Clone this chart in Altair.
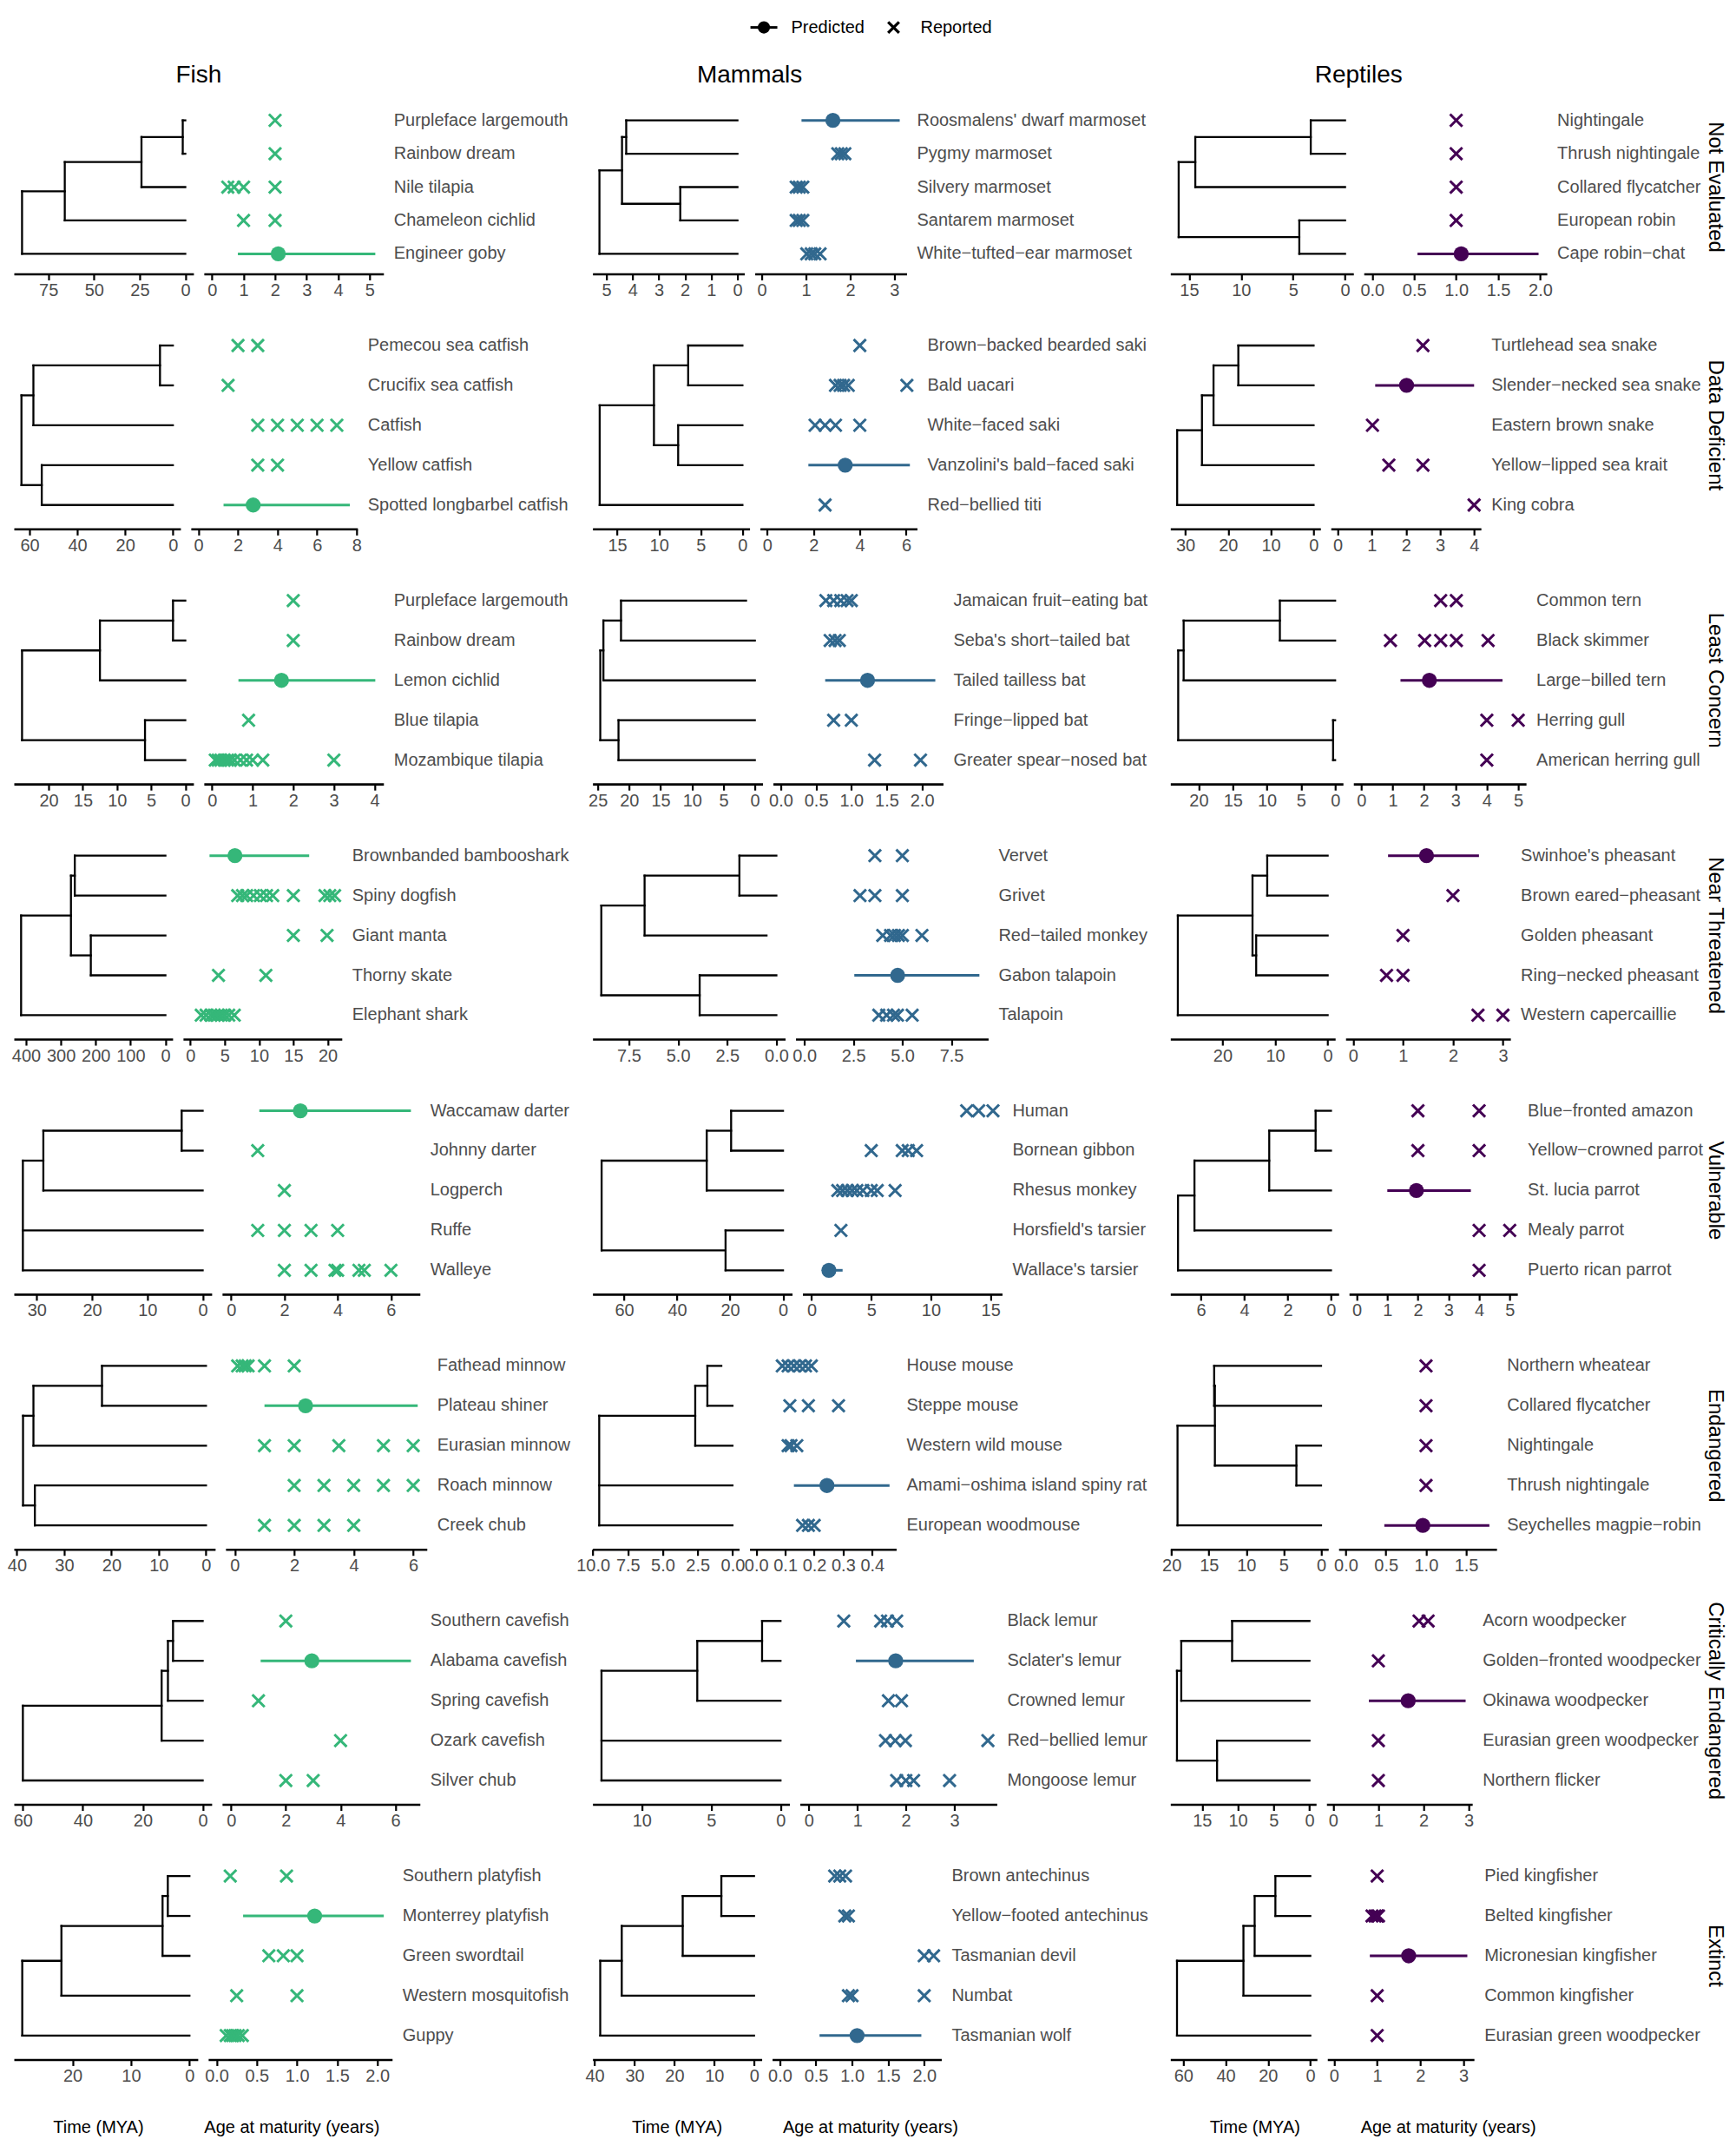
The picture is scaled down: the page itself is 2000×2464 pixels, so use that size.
import altair as alt
import pandas as pd

# ---------------- data ----------------
groups = ["Fish", "Mammals", "Reptiles"]
group_colors = ["#35B779", "#31688E", "#440154"]
statuses = ["Not Evaluated", "Data Deficient", "Least Concern", "Near Threatened",
            "Vulnerable", "Endangered", "Critically Endangered", "Extinct"]
legend_labels = ["Predicted", "Reported"]
x_titles = ["Time (MYA)", "Age at maturity (years)"]

# species (top to bottom) per status row
fish_species = [
    ["Purpleface largemouth", "Rainbow dream", "Nile tilapia", "Chameleon cichlid", "Engineer goby"],
    ["Pemecou sea catfish", "Crucifix sea catfish", "Catfish", "Yellow catfish", "Spotted longbarbel catfish"],
    ["Purpleface largemouth", "Rainbow dream", "Lemon cichlid", "Blue tilapia", "Mozambique tilapia"],
    ["Brownbanded bambooshark", "Spiny dogfish", "Giant manta", "Thorny skate", "Elephant shark"],
    ["Waccamaw darter", "Johnny darter", "Logperch", "Ruffe", "Walleye"],
    ["Fathead minnow", "Plateau shiner", "Eurasian minnow", "Roach minnow", "Creek chub"],
    ["Southern cavefish", "Alabama cavefish", "Spring cavefish", "Ozark cavefish", "Silver chub"],
    ["Southern platyfish", "Monterrey platyfish", "Green swordtail", "Western mosquitofish", "Guppy"],
]
mammal_species = [
    ["Roosmalens' dwarf marmoset", "Pygmy marmoset", "Silvery marmoset", "Santarem marmoset", "White\u2212tufted\u2212ear marmoset"],
    ["Brown\u2212backed bearded saki", "Bald uacari", "White\u2212faced saki", "Vanzolini's bald\u2212faced saki", "Red\u2212bellied titi"],
    ["Jamaican fruit\u2212eating bat", "Seba's short\u2212tailed bat", "Tailed tailless bat", "Fringe\u2212lipped bat", "Greater spear\u2212nosed bat"],
    ["Vervet", "Grivet", "Red\u2212tailed monkey", "Gabon talapoin", "Talapoin"],
    ["Human", "Bornean gibbon", "Rhesus monkey", "Horsfield's tarsier", "Wallace's tarsier"],
    ["House mouse", "Steppe mouse", "Western wild mouse", "Amami\u2212oshima island spiny rat", "European woodmouse"],
    ["Black lemur", "Sclater's lemur", "Crowned lemur", "Red\u2212bellied lemur", "Mongoose lemur"],
    ["Brown antechinus", "Yellow\u2212footed antechinus", "Tasmanian devil", "Numbat", "Tasmanian wolf"],
]
reptile_species = [
    ["Nightingale", "Thrush nightingale", "Collared flycatcher", "European robin", "Cape robin\u2212chat"],
    ["Turtlehead sea snake", "Slender\u2212necked sea snake", "Eastern brown snake", "Yellow\u2212lipped sea krait", "King cobra"],
    ["Common tern", "Black skimmer", "Large\u2212billed tern", "Herring gull", "American herring gull"],
    ["Swinhoe's pheasant", "Brown eared\u2212pheasant", "Golden pheasant", "Ring\u2212necked pheasant", "Western capercaillie"],
    ["Blue\u2212fronted amazon", "Yellow\u2212crowned parrot", "St. lucia parrot", "Mealy parrot", "Puerto rican parrot"],
    ["Northern wheatear", "Collared flycatcher", "Nightingale", "Thrush nightingale", "Seychelles magpie\u2212robin"],
    ["Acorn woodpecker", "Golden\u2212fronted woodpecker", "Okinawa woodpecker", "Eurasian green woodpecker", "Northern flicker"],
    ["Pied kingfisher", "Belted kingfisher", "Micronesian kingfisher", "Common kingfisher", "Eurasian green woodpecker"],
]

# trees: internal node = (age MYA, [children]); leaf = species index, or (index, tip age)
fish_trees = [
    (89.4, [(66.0, [(24.0, [(1.4, [0, 1]), 2]), 3]), 4]),
    (63.4, [(58.4, [(5.4, [0, 1]), 2]), (54.9, [3, 4])]),
    (23.9, [(12.5, [(1.8, [0, 1]), 2]), (5.9, [3, 4])]),
    (414.0, [(271.0, [(260.0, [0, 1]), (214.0, [2, 3])]), 4]),
    (32.5, [(28.8, [(3.8, [0, 1]), 2]), 3, 4]),
    (38.7, [(36.5, [(22.0, [0, 1]), 2]), (36.2, [3, 4])]),
    (60.0, [(13.7, [(11.6, [(9.9, [0, 1]), 2]), 3]), 4]),
    (28.6, [(21.9, [(4.6, [(3.7, [0, 1]), 2]), 3]), 4]),
]
mammal_trees = [
    (5.26, [(4.4, [(4.24, [0, 1]), (2.18, [2, 3])]), 4]),
    (17.1, [(10.6, [(6.5, [0, 1]), (7.7, [2, 3])]), 4]),
    (24.6, [(24.1, [(21.3, [(0, 1.4), 1]), 2]), (21.7, [3, 4])]),
    (8.9, [(6.7, [(1.88, [0, 1]), (2, 0.5)]), (3.9, [3, 4])]),
    (68.5, [(28.8, [(19.6, [0, 1]), 2]), (21.7, [3, 4])]),
    (9.55, [(2.67, [(1.8, [(0, 0.8), 1]), 2]), 3, 4]),
    (12.9, [(6.0, [(1.33, [0, 1]), 2]), 3, 4]),
    (38.6, [(33.2, [(17.9, [(8.2, [0, 1]), 2]), 3]), 4]),
]
reptile_trees = [
    (16.0, [(14.4, [(3.3, [0, 1]), 2]), (4.4, [3, 4])]),
    (31.9, [(26.1, [(23.4, [(17.6, [0, 1]), 2]), 3]), 4]),
    (23.0, [(22.2, [(8.1, [0, 1]), 2]), (0.3, [3, 4])]),
    (28.5, [(14.3, [(11.5, [0, 1]), (13.6, [2, 3])]), 4]),
    (7.06, [(6.3, [(2.85, [(0.71, [0, 1]), 2]), 3]), 4]),
    (19.2, [(14.2, [(14.3, [0, 1]), (3.3, [2, 3])]), 4]),
    (18.5, [(17.9, [(10.8, [0, 1]), 2]), (12.9, [3, 4])]),
    (63.0, [(31.6, [(26.3, [(16.5, [0, 1]), 2]), 3]), 4]),
]

# reported ages at maturity (years), per species
fish_reported = [
    [[2.0], [2.0], [0.5, 0.7, 1.0, 2.0], [1.0, 2.0], []],
    [[2.0, 3.0], [1.5], [3.0, 4.0, 5.0, 6.0, 7.0], [3.0, 4.0], []],
    [[2.0], [2.0], [], [0.9], [0.08, 0.15, 0.22, 0.3, 0.38, 0.45, 0.55, 0.7, 0.85, 1.0, 1.25, 3.0]],
    [[], [6.9, 7.6, 8.2, 9.2, 10.2, 11.1, 12.0, 15.0, 19.6, 20.3, 21.0], [15.0, 19.9], [4.1, 11.0],
     [1.6, 2.3, 3.0, 3.5, 4.0, 4.5, 5.0, 5.6, 6.4]],
    [[], [1.0], [2.0], [1.0, 2.0, 3.0, 4.0], [2.0, 3.0, 3.9, 4.0, 4.8, 5.0, 6.0]],
    [[0.1, 0.25, 0.35, 0.45, 1.0, 2.0], [], [1.0, 2.0, 3.5, 5.0, 6.0], [2.0, 3.0, 4.0, 5.0, 6.0], [1.0, 2.0, 3.0, 4.0]],
    [[2.0], [], [1.0], [4.0], [2.0, 3.0]],
    [[0.17, 0.87], [], [0.65, 0.83, 1.0], [0.25, 1.0], [0.12, 0.17, 0.2, 0.23, 0.27, 0.32]],
]
mammal_reported = [
    [[], [1.72, 1.8, 1.88], [0.78, 0.85, 0.93], [0.78, 0.85, 0.93], [1.02, 1.12, 1.2, 1.32]],
    [[4.0], [2.95, 3.15, 3.3, 3.5, 6.03], [2.07, 2.5, 2.95, 4.0], [], [2.5]],
    [[0.64, 0.75, 0.85, 0.94, 1.0], [0.7, 0.77, 0.83], [], [0.75, 1.0], [1.33, 1.98]],
    [[3.6, 5.0], [2.84, 3.6, 5.0], [4.0, 4.4, 4.6, 4.8, 5.0, 6.0], [], [3.8, 4.2, 4.55, 4.75, 5.5]],
    [[13.0, 14.0, 15.2], [5.0, 7.6, 8.1, 8.8], [2.2, 2.6, 3.0, 3.4, 3.8, 4.3, 5.0, 5.5, 7.0], [2.46], []],
    [[0.09, 0.11, 0.13, 0.15, 0.17, 0.19], [0.116, 0.18, 0.284], [0.11, 0.12, 0.14], [], [0.16, 0.18, 0.2]],
    [[0.72, 1.48, 1.62, 1.81], [], [1.64, 1.91], [1.58, 1.78, 1.99, 3.69], [1.81, 2.0, 2.16, 2.9]],
    [[0.76, 0.83, 0.91], [0.9, 0.95], [2.0, 2.13], [0.95, 1.0, 2.0], []],
]
reptile_reported = [
    [[1.0], [1.0], [1.0], [1.0], []],
    [[2.5], [], [1.02], [1.5, 2.5], [4.0]],
    [[2.53, 3.03], [0.93, 2.02, 2.53, 3.03, 4.04], [], [4.0, 5.0], [4.0]],
    [[], [2.0], [1.0], [0.67, 1.0], [2.5, 3.0]],
    [[2.0, 4.0], [2.0, 4.0], [], [4.0, 5.0], [4.0]],
    [[1.0], [1.0], [1.0], [1.0], []],
    [[1.9, 2.1], [1.0], [], [1.0], [1.0]],
    [[1.0], [0.88, 0.95, 1.0, 1.03], [], [1.0], [1.0]],
]

# predicted: (species index, estimate, lower, upper)
fish_predicted = [(4, 2.1, 0.82, 5.18), (4, 2.77, 1.27, 7.66), (2, 1.71, 0.65, 4.02), (0, 6.5, 2.8, 17.3),
                  (0, 2.6, 1.06, 6.75), (1, 2.38, 1.0, 6.15), (1, 2.95, 1.08, 6.57), (1, 1.22, 0.33, 2.08)]
mammal_predicted = [(0, 1.61, 0.9, 3.12), (3, 3.37, 1.78, 6.16), (2, 1.23, 0.63, 2.19), (3, 4.76, 2.55, 8.93),
                    (4, 1.45, 0.9, 2.6), (3, 0.244, 0.13, 0.46), (1, 1.79, 0.97, 3.4), (4, 1.07, 0.55, 1.96)]
reptile_predicted = [(4, 1.06, 0.54, 1.98), (1, 2.02, 1.1, 4.0), (2, 2.17, 1.25, 4.5), (0, 1.47, 0.7, 2.52),
                     (2, 1.95, 1.0, 3.73), (4, 0.96, 0.48, 1.79), (2, 1.66, 0.79, 2.93), (2, 1.73, 0.83, 3.09)]

# axis tick values
fish_tree_ticks = [[0, 25, 50, 75], [0, 20, 40, 60], [0, 5, 10, 15, 20], [0, 100, 200, 300, 400],
                   [0, 10, 20, 30], [0, 10, 20, 30, 40], [0, 20, 40, 60], [0, 10, 20]]
fish_dot_ticks = [[0, 1, 2, 3, 4, 5], [0, 2, 4, 6, 8], [0, 1, 2, 3, 4], [0, 5, 10, 15, 20],
                  [0, 2, 4, 6], [0, 2, 4, 6], [0, 2, 4, 6], [0, 0.5, 1, 1.5, 2]]
mammal_tree_ticks = [[0, 1, 2, 3, 4, 5], [0, 5, 10, 15], [0, 5, 10, 15, 20, 25], [0, 2.5, 5, 7.5],
                     [0, 20, 40, 60], [0, 2.5, 5, 7.5, 10], [0, 5, 10], [0, 10, 20, 30, 40]]
mammal_dot_ticks = [[0, 1, 2, 3], [0, 2, 4, 6], [0, 0.5, 1, 1.5, 2], [0, 2.5, 5, 7.5],
                    [0, 5, 10, 15], [0, 0.1, 0.2, 0.3, 0.4], [0, 1, 2, 3], [0, 0.5, 1, 1.5, 2]]
reptile_tree_ticks = [[0, 5, 10, 15], [0, 10, 20, 30], [0, 5, 10, 15, 20], [0, 10, 20],
                      [0, 2, 4, 6], [0, 5, 10, 15, 20], [0, 5, 10, 15], [0, 20, 40, 60]]
reptile_dot_ticks = [[0, 0.5, 1, 1.5, 2], [0, 1, 2, 3, 4], [0, 1, 2, 3, 4, 5], [0, 1, 2, 3],
                     [0, 1, 2, 3, 4, 5], [0, 0.5, 1, 1.5], [0, 1, 2, 3], [0, 1, 2, 3]]

# ---------------- layout ----------------
FONT = "Liberation Sans"
TEXT_GREY = "#4D4D4D"
X_SHAPE = "M-1,-1L1,1M-1,1L1,-1"
GAP = 12
ROW_GAP = 55
HEADER_H = 102
col_start = [0, 667, 1333]
strip_start = 1951
strip_w = 20
row_h = [200, 239, 239, 239, 239, 239, 239, 239]
panel_w = [
    [207, 192, 207, 183, 228, 232, 228, 212],
    [175, 181, 196, 222, 230, 169, 227, 195],
    [211, 173, 199, 190, 194, 182, 168, 169],
]

species_all = [fish_species, mammal_species, reptile_species]
trees_all = [fish_trees, mammal_trees, reptile_trees]
reported_all = [fish_reported, mammal_reported, reptile_reported]
predicted_all = [fish_predicted, mammal_predicted, reptile_predicted]
tree_ticks_all = [fish_tree_ticks, mammal_tree_ticks, reptile_tree_ticks]
dot_ticks_all = [fish_dot_ticks, mammal_dot_ticks, reptile_dot_ticks]

Y_SCALE = alt.Scale(domain=[-0.6, 4.6], reverse=True, nice=False, zero=False)


def fmt_for(ticks):
    return ".1f" if any(float(t) != int(t) for t in ticks) else "d"


def tree_segments(node, segs):
    if isinstance(node, int):
        return float(node), 0.0
    a, b = node
    if not isinstance(b, list):
        return float(a), float(b)
    ys = []
    for ch in b:
        y, age_c = tree_segments(ch, segs)
        segs.append({"x": age_c, "x2": a, "y": y, "y2": y})
        ys.append(y)
    segs.append({"x": a, "x2": a, "y": min(ys), "y2": max(ys)})
    return (min(ys) + max(ys)) / 2.0, a


def tree_chart(tree, ticks, w, h):
    segs = []
    _, root = tree_segments(tree, segs)
    df = pd.DataFrame(segs)
    return alt.Chart(df).mark_rule(color="black", strokeWidth=2.3, strokeCap="square").encode(
        x=alt.X("x:Q", scale=alt.Scale(domain=[-0.05 * root, 1.05 * root], reverse=True, nice=False, zero=False),
                axis=alt.Axis(values=ticks, format=fmt_for(ticks), title=None)),
        x2="x2:Q",
        y=alt.Y("y:Q", scale=Y_SCALE, axis=None),
        y2="y2:Q",
    ).properties(width=w, height=h)


def dot_chart(rep, pred, ticks, w, h, color):
    rep_df = pd.DataFrame([{"x": v, "y": i} for i, vals in enumerate(rep) for v in vals])
    idx, val, lo, hi = pred
    pred_df = pd.DataFrame([{"x": val, "lo": lo, "hi": hi, "y": idx}])
    m = max(max(v for vals in rep for v in vals), hi)
    xs = alt.Scale(domain=[-0.05 * m, 1.05 * m], nice=False, zero=False)
    ax = alt.Axis(values=ticks, format=fmt_for(ticks), title=None)
    interval = alt.Chart(pred_df).mark_rule(color=color, strokeWidth=3).encode(
        x=alt.X("lo:Q", scale=xs, axis=ax), x2="hi:Q", y=alt.Y("y:Q", scale=Y_SCALE, axis=None))
    point = alt.Chart(pred_df).mark_circle(color=color, size=300, opacity=1).encode(
        x=alt.X("x:Q", scale=xs, axis=ax), y=alt.Y("y:Q", scale=Y_SCALE, axis=None))
    crosses = alt.Chart(rep_df).mark_point(shape=X_SHAPE, color=color, filled=False, size=200,
                                           strokeWidth=3, opacity=1).encode(
        x=alt.X("x:Q", scale=xs, axis=ax), y=alt.Y("y:Q", scale=Y_SCALE, axis=None))
    return alt.layer(interval, point, crosses).properties(width=w, height=h)


def label_chart(names, w, h):
    df = pd.DataFrame({"name": names, "y": list(range(len(names)))})
    return alt.Chart(df).mark_text(align="left", baseline="middle", fontSize=20, color=TEXT_GREY,
                                   font=FONT).encode(
        x=alt.value(0), y=alt.Y("y:Q", scale=Y_SCALE, axis=None), text="name:N"
    ).properties(width=w, height=h)


def extender(depth):
    # invisible rule that reserves vertical room below a view (controls the row pitch)
    return alt.Chart(pd.DataFrame({"t": [""]})).mark_rule(opacity=0, strokeWidth=0.1).encode(
        x=alt.value(0), y=alt.value(0), y2=alt.value(depth))


def strip_chart(label, h):
    df = pd.DataFrame({"t": [label]})
    txt = alt.Chart(df).mark_text(angle=90, fontSize=24, color="black", font=FONT,
                                  baseline="middle", align="center").encode(
        x=alt.value(strip_w / 2), y=alt.value(h / 2), text="t:N")
    return alt.layer(txt, extender(h + ROW_GAP)).properties(width=strip_w, height=h)


total_w = strip_start + strip_w

# ---- header: legend + column titles ----
title_df = pd.DataFrame({
    "t": groups,
    "x": [col_start[g] + (2 * panel_w[g][0] + GAP) / 2 for g in range(3)],
})
titles = alt.Chart(title_df).mark_text(fontSize=28, color="black", font=FONT, baseline="middle",
                                       align="center").encode(
    x=alt.X("x:Q", scale=None, axis=None), y=alt.value(73), text="t:N")
leg_line = alt.Chart(pd.DataFrame({"t": [legend_labels[0]]})).mark_rule(color="black", strokeWidth=3).encode(
    x=alt.value(849), x2=alt.value(880), y=alt.value(18))
leg_dot = alt.Chart(pd.DataFrame({"t": [legend_labels[0]]})).mark_circle(color="black", size=200, opacity=1).encode(
    x=alt.value(864.5), y=alt.value(18))
leg_x = alt.Chart(pd.DataFrame({"t": [legend_labels[1]]})).mark_point(
    shape=X_SHAPE, color="black", filled=False, size=160, strokeWidth=3.2, opacity=1).encode(
    x=alt.value(1014), y=alt.value(18))
leg_text = alt.Chart(pd.DataFrame({"t": legend_labels, "x": [896, 1045]})).mark_text(
    fontSize=20, color="black", font=FONT, align="left", baseline="middle").encode(
    x=alt.X("x:Q", scale=None, axis=None), y=alt.value(18), text="t:N")
header = alt.layer(leg_line, leg_dot, leg_x, leg_text, titles, extender(HEADER_H)).properties(
    width=total_w, height=47)

# ---- panel rows ----
rows = []
for r in range(8):
    h = row_h[r]
    parts = []
    for g in range(3):
        w = panel_w[g][r]
        start = col_start[g]
        nxt = col_start[g + 1] if g < 2 else strip_start
        lw = nxt - GAP - (start + 2 * w + 2 * GAP)
        parts.append(tree_chart(trees_all[g][r], tree_ticks_all[g][r], w, h))
        parts.append(dot_chart(reported_all[g][r], predicted_all[g][r], dot_ticks_all[g][r], w, h,
                               group_colors[g]))
        parts.append(label_chart(species_all[g][r], lw, h))
    parts.append(strip_chart(statuses[r], h))
    rows.append(alt.hconcat(*parts, spacing=GAP, bounds="flush"))

# ---- footer: axis titles ----
foot_df = pd.DataFrame({
    "t": [x_titles[0], x_titles[1]] * 3,
    "x": [c + off for c in col_start for off in (97.5, 320.5)],
})
footer = alt.Chart(foot_df).mark_text(fontSize=20, color="black", font=FONT, align="center",
                                      baseline="middle").encode(
    x=alt.X("x:Q", scale=None, axis=None), y=alt.value(24), text="t:N"
).properties(width=total_w, height=30)

chart = alt.vconcat(header, *rows, footer, spacing=0, bounds="full").properties(
    padding={"left": 0, "top": 5, "right": 4, "bottom": 0}
).configure(font=FONT).configure_view(strokeWidth=0).configure_axis(
    domainColor="black", domainWidth=2.6, tickColor="black", tickWidth=2.2, tickSize=7,
    labelColor=TEXT_GREY, labelFontSize=20, labelFont=FONT, labelPadding=2, grid=False,
    labelFlush=False, labelOverlap=False
)

chart.save("out.html", embed_options={"renderer": "svg", "actions": False})
